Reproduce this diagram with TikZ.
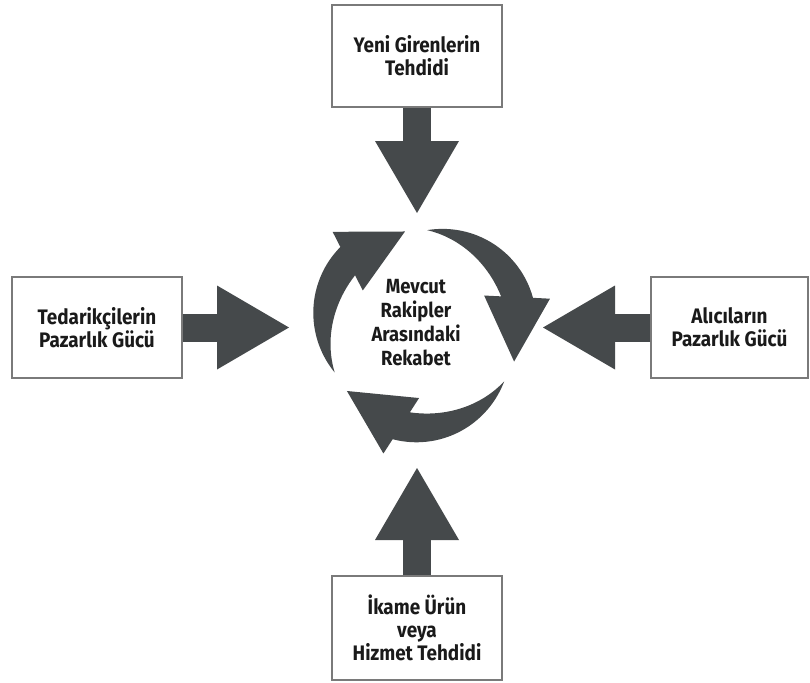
\documentclass[tikz,border=0pt]{standalone}
\usepackage{fontspec}
\setmainfont{Fira Sans}[FakeStretch=0.9]
\usetikzlibrary{arrows.meta}
\definecolor{arrowgray}{HTML}{45494B}
\definecolor{boxgray}{HTML}{7A7A7A}
\definecolor{inkblack}{HTML}{1A1A1A}

\begin{document}
\begin{tikzpicture}[x=1pt,y=-1pt,
  force/.style={draw=boxgray, line width=1.4pt, fill=white, align=center,
    text=inkblack, inner sep=0pt,
    font=\bfseries\fontsize{21}{23}\selectfont},
  push/.style={draw=arrowgray, line width=28pt,
    -{Triangle[length=72pt 0, width=84pt 0, line width=0pt]}},
  core/.style={align=center, text=inkblack, inner sep=0pt,
    font=\bfseries\fontsize{20.5}{24}\selectfont},
  cyclearrow/.style={fill=arrowgray},
]
\useasboundingbox (0,0) rectangle (810,682);

% the four outside forces
\node[force, minimum width=170pt, minimum height=102pt] (entrants) at (417,56)
  {Yeni Girenlerin\\Tehdidi};
\node[force, minimum width=170pt, minimum height=104pt] (substitutes) at (417,628)
  {İkame Ürün\\veya\\Hizmet Tehdidi};
\node[force, minimum width=170pt, minimum height=101pt] (suppliers) at (97,327.5)
  {Tedarikçilerin\\Pazarlık Gücü};
\node[force, minimum width=157pt, minimum height=101pt] (buyers) at (729.5,327.5)
  {Alıcıların\\Pazarlık Gücü};

% where the block arrows end, around the central rivalry
\coordinate (entrantsTip) at (417,213);
\coordinate (substitutesTip) at (417,468);
\coordinate (suppliersTip) at (289,327.5);
\coordinate (buyersTip) at (543,327.5);

\draw[push] (entrants.south) -- (entrantsTip);
\draw[push] (substitutes.north) -- (substitutesTip);
\draw[push] (suppliers.east) -- (suppliersTip);
\draw[push] (buyers.west) -- (buyersTip);

% three tapered arrows circling clockwise round the centre
\coordinate (hub) at (422,328);
\foreach \k in {0,120,240}{
  \begin{scope}[shift={(hub)}]
    \fill[cyclearrow]
      plot[domain=0:1, samples=40, variable=\t]
        ({\k+153+71.8*\t}:{98+17*sin(90*\t)})
      -- ({\k+227.1}:131.3) -- ({\k+260}:98) -- ({\k+212.4}:70.1)
      -- plot[domain=0:1, samples=40, variable=\t]
        ({\k+218.2-65.2*\t}:{98-12.8*sin(90*(1-\t))})
      -- cycle;
  \end{scope}
}

\node[core] (rivalry) at (416,323) {Mevcut\\Rakipler\\Arasındaki\\Rekabet};
\end{tikzpicture}
\end{document}
